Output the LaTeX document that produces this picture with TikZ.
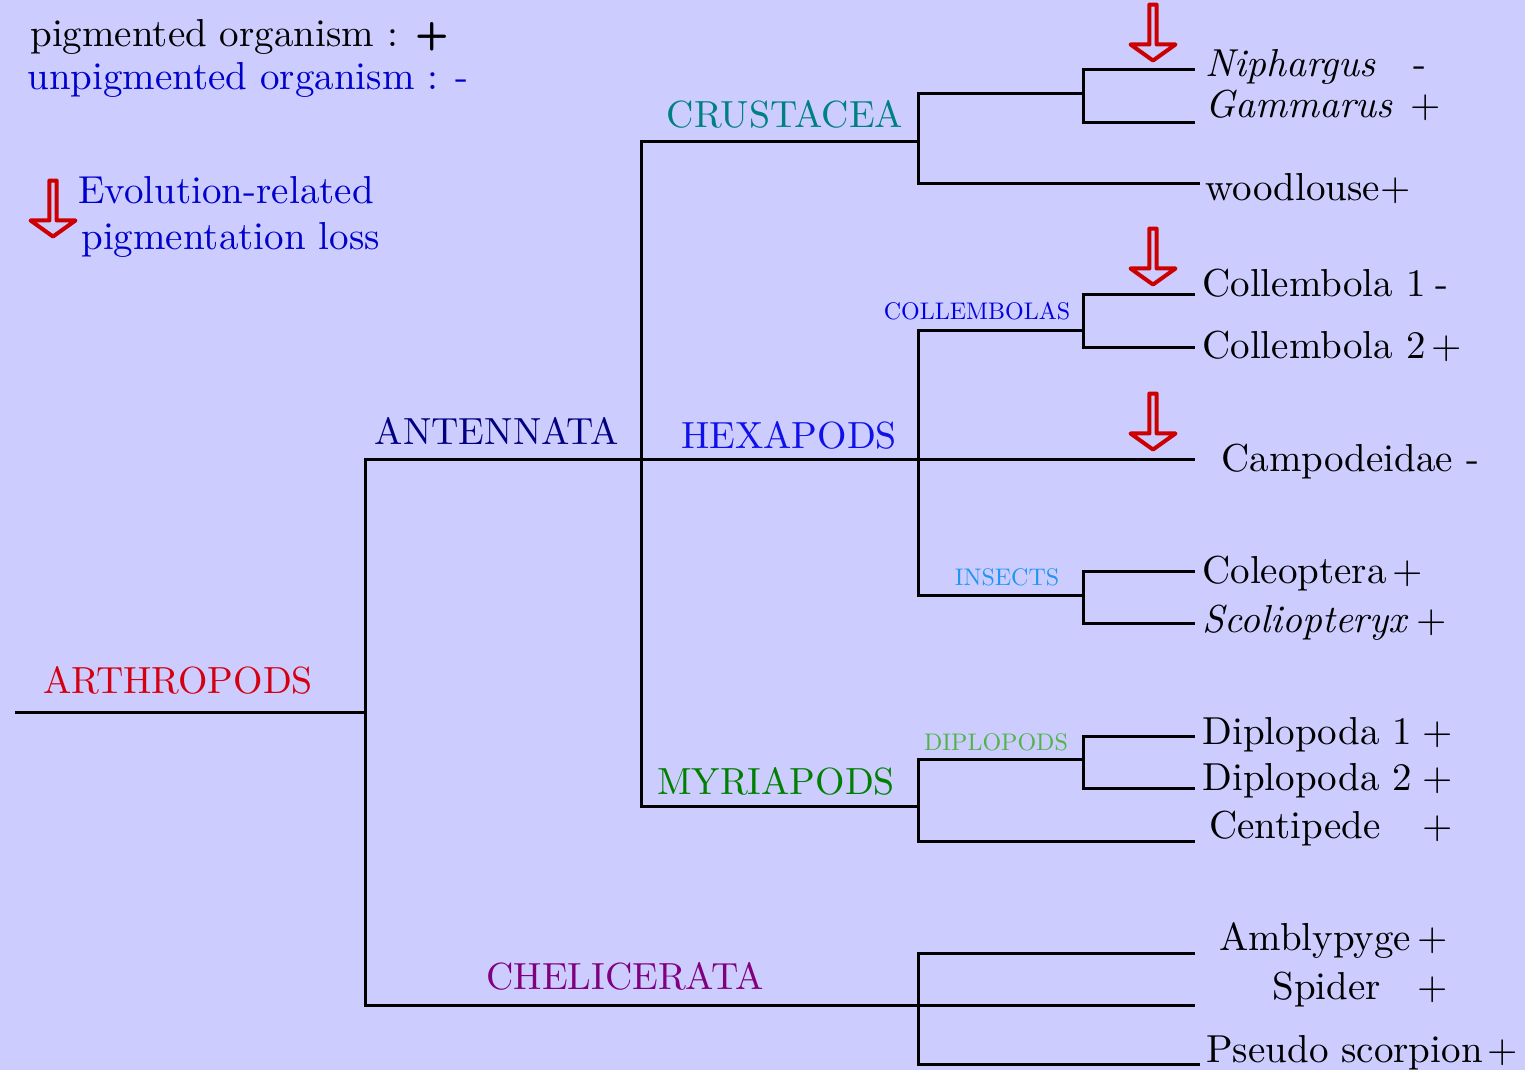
\documentclass[tikz,border=0pt]{standalone}
\usepackage{fontspec}
\setmainfont{lmroman10}[Extension=.otf,UprightFont=*-regular,ItalicFont=*-italic,BoldFont=*-bold,BoldItalicFont=*-bolditalic]
\setsansfont{lmsans10}[Extension=.otf,UprightFont=*-regular,BoldFont=*-bold]
\usepackage{tikz}
\usetikzlibrary{shapes.arrows,positioning}
\definecolor{lavender}{RGB}{204,204,255}
\definecolor{lossred}{RGB}{204,0,0}
\definecolor{arthred}{RGB}{212,0,16}
\definecolor{antnavy}{RGB}{0,0,128}
\definecolor{crusteal}{RGB}{0,128,128}
\definecolor{hexablue}{RGB}{16,16,235}
\definecolor{myrigreen}{RGB}{0,128,0}
\definecolor{chelpurple}{RGB}{128,0,128}
\definecolor{collblue}{RGB}{0,0,225}
\definecolor{insblue}{RGB}{30,150,245}
\definecolor{diplgreen}{RGB}{80,180,70}
\definecolor{legblue}{RGB}{0,0,204}

\begin{document}
\begin{tikzpicture}[x=0.5pt,y=-0.5pt,
branch/.style={draw=black,line width=1.5pt},
clade/.style={inner sep=0pt,anchor=base,font=\fontsize{18.9}{22}\selectfont},
subclade/.style={inner sep=0pt,anchor=base,font=\fontsize{12}{14}\selectfont},
leaf/.style={inner sep=0pt,anchor=base west,font=\fontsize{19.5}{23}\selectfont},
sign/.style={inner sep=0pt,anchor=base,font=\fontsize{19.5}{23}\selectfont},
loss/.style={single arrow,draw=lossred,line width=2pt,line join=round,rotate=-90,anchor=tip,
  minimum height=28pt,minimum width=22.5pt,single arrow head extend=5.25pt,
  single arrow tip angle=109,inner sep=0pt},
]
\fill[lavender] (0,0) rectangle (1525,1070);
\useasboundingbox (0,0) rectangle (1525,1070);

\coordinate (root) at (15,712);
\coordinate (arth) at (365,712);
\coordinate (ant) at (641,459);
\coordinate (crus) at (918,141);
\coordinate (hexa) at (918,459);
\coordinate (myri) at (918,806);
\coordinate (chel) at (918,1005);
\coordinate (crusA) at (1083,94);
\coordinate (coll) at (1083,330);
\coordinate (ins) at (1083,595);
\coordinate (dipl) at (1083,759);

\coordinate (tNiph) at (1195,70);
\coordinate (tGamm) at (1195,123);
\coordinate (tWood) at (1200,183);
\coordinate (tColl1) at (1195,294);
\coordinate (tColl2) at (1195,347);
\coordinate (tCampo) at (1195,459);
\coordinate (tColeo) at (1195,571);
\coordinate (tScol) at (1195,623);
\coordinate (tDip1) at (1195,736);
\coordinate (tDip2) at (1195,788);
\coordinate (tCenti) at (1195,841);
\coordinate (tAmbl) at (1195,953);
\coordinate (tSpid) at (1195,1005);
\coordinate (tPseu) at (1200,1064);

\draw [branch] (root) -- (arth);
\draw [branch] (ant) -| (arth) |- (chel);
\draw [branch] (crus) -| (ant) |- (myri);
\draw [branch] (ant) -- (hexa) -- (tCampo);
\draw [branch] (crusA) -| (crus) |- (tWood);
\draw [branch] (coll) -| (hexa) |- (ins);
\draw [branch] (dipl) -| (myri) |- (tCenti);
\draw [branch] (chel) -- (tSpid);

\foreach \vu/\vm/\vd in {tNiph/crusA/tGamm, tColl1/coll/tColl2, tColeo/ins/tScol, tDip1/dipl/tDip2, tAmbl/chel/tPseu}
{
\draw [branch] (\vu) -| (\vm) |- (\vd);
}

\node [clade,text=arthred] (Arth) at (178,693) {ARTHROPODS};
\node [clade,text=antnavy] (Ant) at (497,444) {ANTENNATA};
\node [clade,text=crusteal] (Crus) at (785,127) {CRUSTACEA};
\node [clade,text=hexablue] (Hexa) at (789,448) {HEXAPODS};
\node [clade,text=myrigreen] (Myri) at (776,794) {MYRIAPODS};
\node [clade,text=chelpurple] (Chel) at (625,989) {CHELICERATA};
\node [subclade,text=collblue] (Coll) at (977,319) {COLLEMBOLAS};
\node [subclade,text=insblue] (Ins) at (1007,585) {INSECTS};
\node [subclade,text=diplgreen] (Dipl) at (996,750) {DIPLOPODS};

\node [leaf] (Niph) at (1205,76) {\textit{Niphargus}};
\node [leaf] (Gamm) at (1205,118) {\textit{Gammarus}};
\node [leaf] (Wood) at (1205,200) {woodlouse+};
\node [leaf] (Coll1) at (1202,296) {Collembola 1};
\node [leaf] (Coll2) at (1202,358) {Collembola 2};
\node [leaf] (Campo) at (1221,471) {Campodeidae};
\node [leaf] (Coleo) at (1202,583) {Coleoptera};
\node [leaf] (Scol) at (1202,632) {\textit{Scoliopteryx}};
\node [leaf] (Dip1) at (1202,744) {Diplopoda 1};
\node [leaf] (Dip2) at (1202,790) {Diplopoda 2};
\node [leaf] (Centi) at (1209,838) {Centipede};
\node [leaf] (Ambl) at (1219,950) {Amblypyge};
\node [leaf] (Spid) at (1272,999) {Spider};
\node [leaf] (Pseu) at (1206,1062) {Pseudo scorpion};

\foreach \vs/\vx/\vy/\vt in {sNiph/1420/76/-, sGamm/1426/118/+, sColl1/1442/296/-, sColl2/1447/358/+,
  sCampo/1473/471/-, sColeo/1408/583/+, sScol/1432/632/+, sDip1/1438/744/+, sDip2/1438/790/+,
  sCenti/1438/838/+, sAmbl/1433/950/+, sSpid/1433/999/+, sPseu/1503/1062/+}
{
\node [sign] (\vs) at (\vx,\vy) {\vt};
}

\node [loss] (lossNiph) at (1153,63) {};
\node [loss] (lossColl) at (1153,287) {};
\node [loss] (lossCampo) at (1153,452) {};

\node [leaf] (pig) at (30,47) {pigmented organism : \textsf{\bfseries +}};
\node [leaf,text=legblue] (unpig) at (27,90) {unpigmented organism : -};
\node [loss] (lossKey) at (53,239) {};
\node [leaf,text=legblue] (evo) at (78,203) {Evolution-related};
\node [leaf,text=legblue] (evo2) at (81,249) {pigmentation loss};
\end{tikzpicture}
\end{document}
